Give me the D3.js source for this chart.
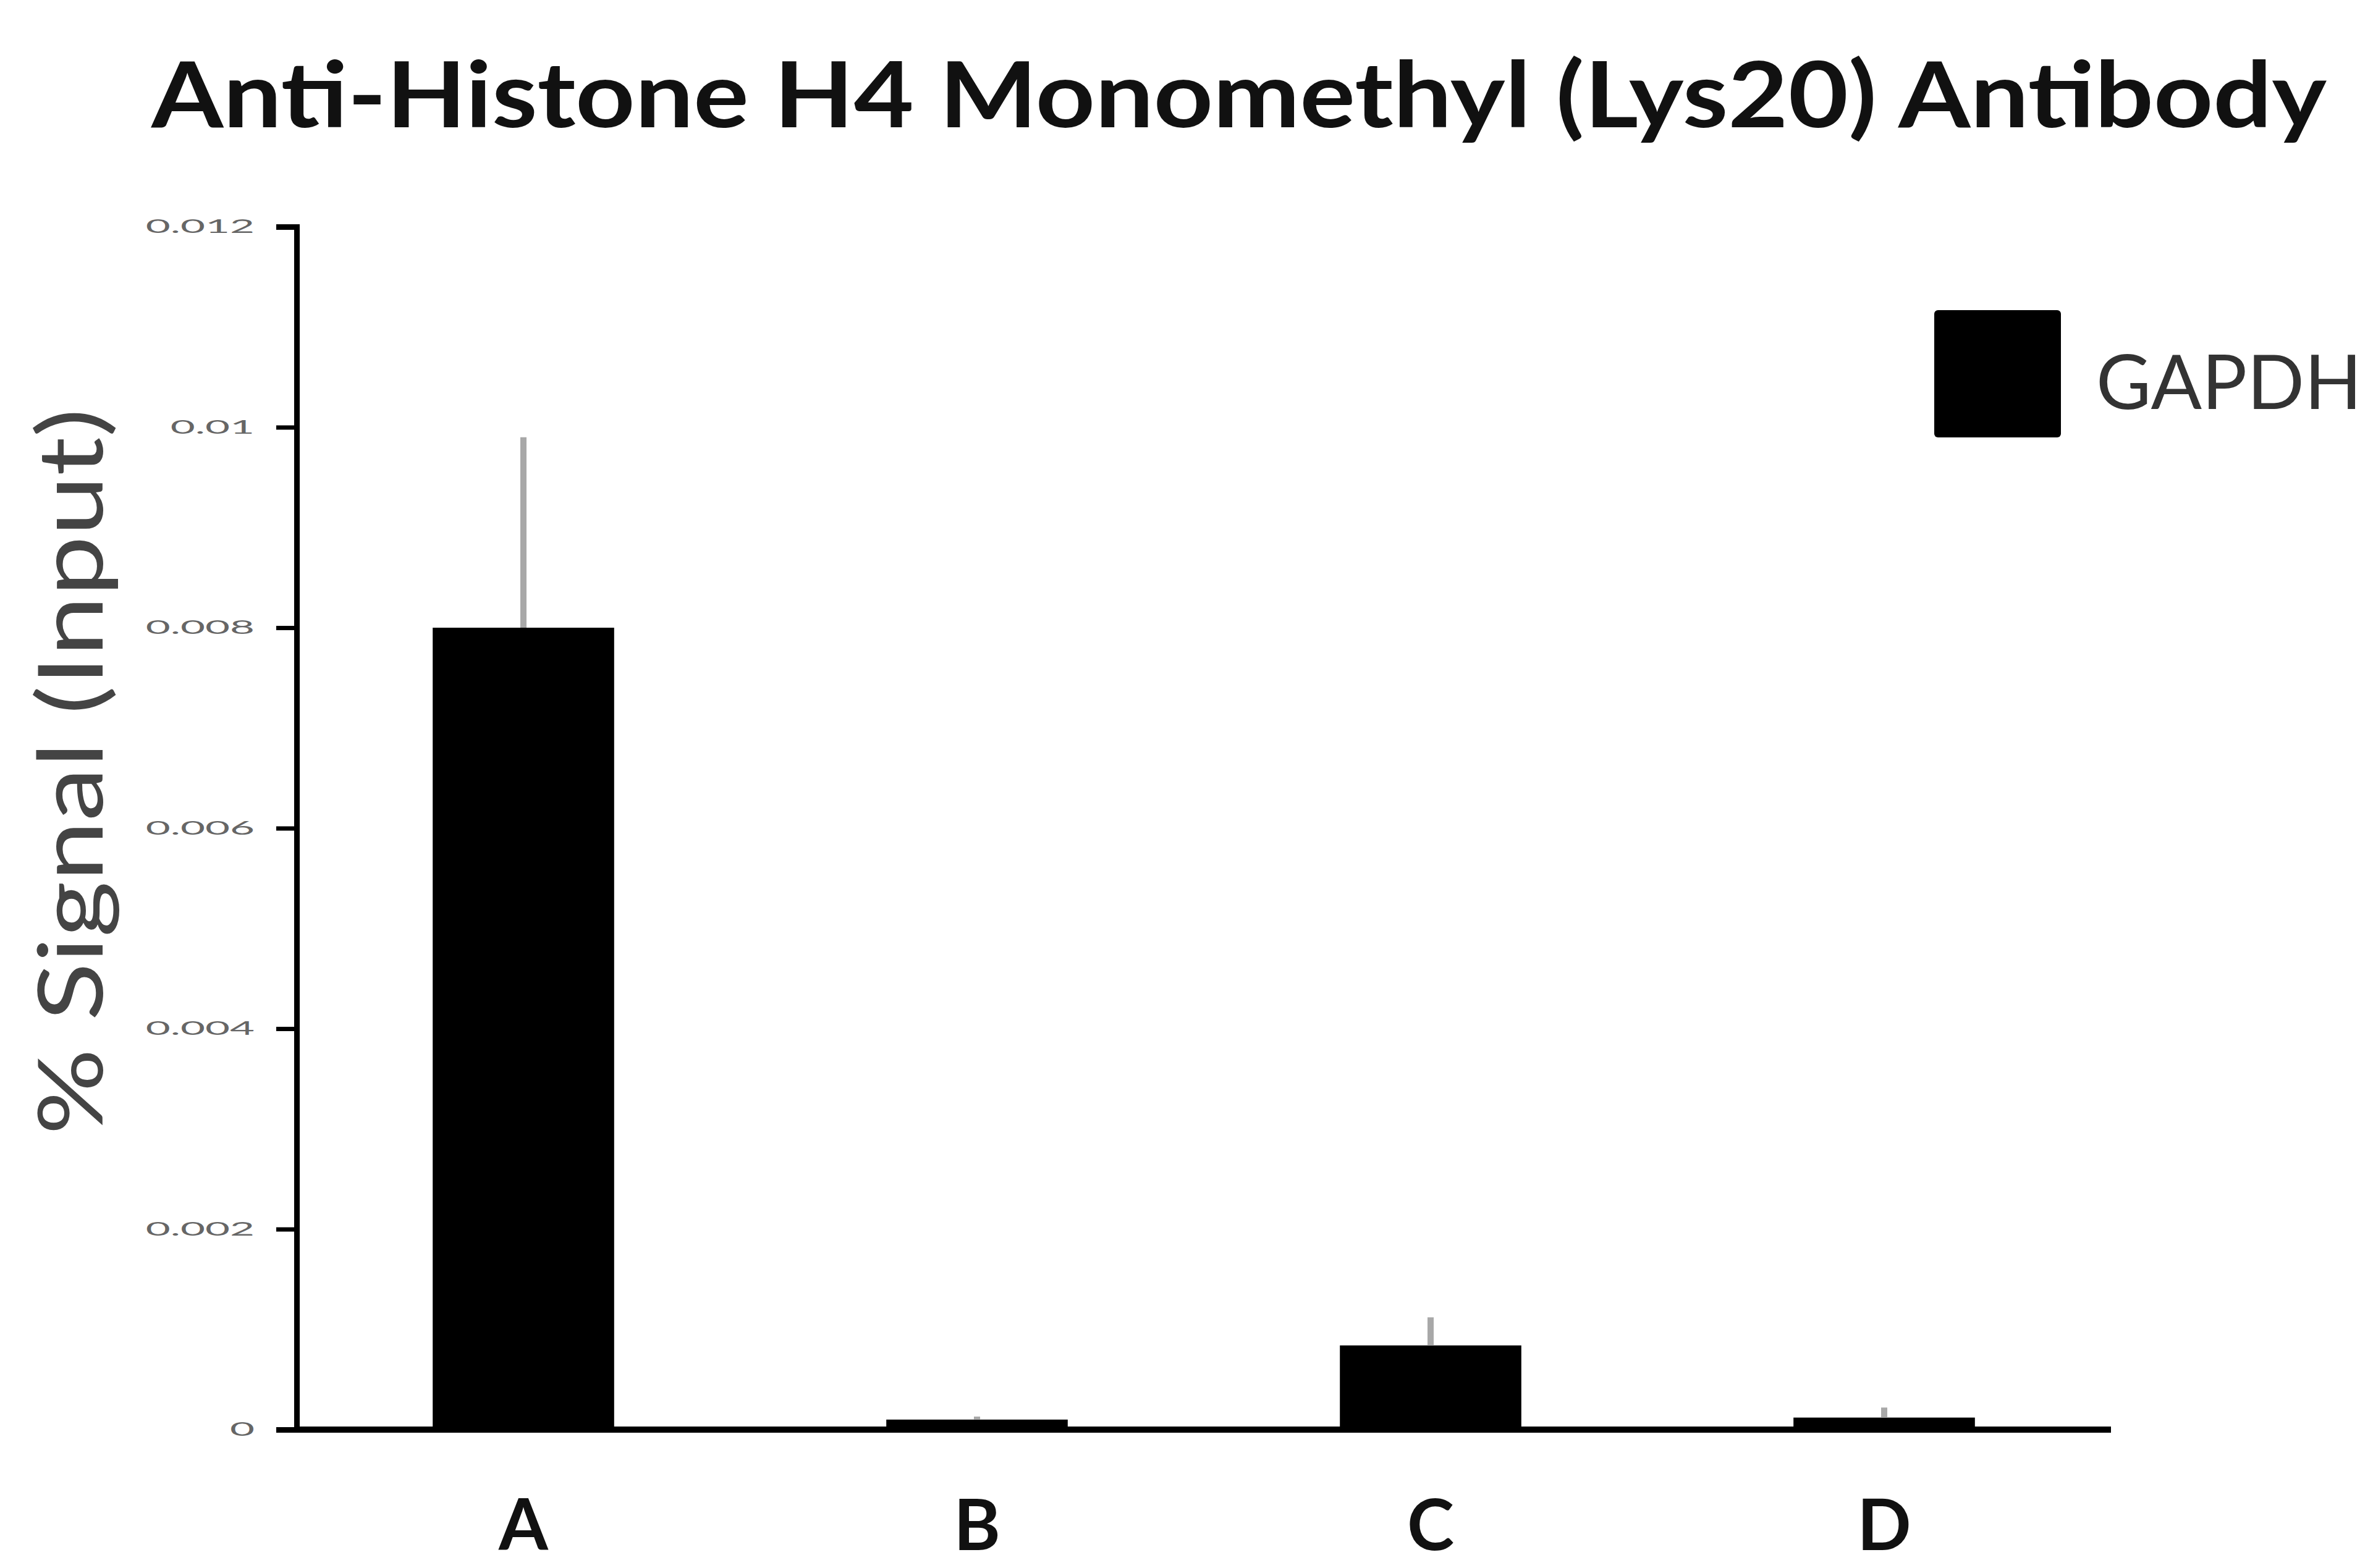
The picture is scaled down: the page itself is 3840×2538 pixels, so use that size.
<!DOCTYPE html>
<html>
<head>
<meta charset="utf-8">
<script src="https://cdn.jsdelivr.net/npm/d3@7"></script>
<style>
  html, body { margin: 0; padding: 0; background: #fff; }
  svg { display: block; }
</style>
</head>
<body>
<svg id="chart" width="3840" height="2538"></svg>
<script>
// chart data
const categories = ["A", "B", "C", "D"];
const values = [0.008, 0.0001, 0.00084, 0.00012];
const errors = [0.0019, 0.00003, 0.00028, 0.0001];
const yTicks = [0, 0.002, 0.004, 0.006, 0.008, 0.01, 0.012];
const yTickLabels = ["0", "0.002", "0.004", "0.006", "0.008", "0.01", "0.012"];
const seriesName = "GAPDH";
const title = "Anti-Histone H4 Monomethyl (Lys20) Antibody";
const yTitle = "% Signal (Input)";

const svg = d3.select("#chart");
svg.append("rect").attr("width", 3840).attr("height", 2538).attr("fill", "#fff");

// plot box (window.top is taken, so prefix these)
const plotLeft = 480, plotRight = 3416, plotTop = 367, plotBottom = 2314;

const x = d3.scaleBand().domain(categories).range([plotLeft, plotRight]).padding(0);
const y = d3.scaleLinear().domain([0, 0.012]).range([plotBottom, plotTop]);
const barW = x.bandwidth() * 0.4;

// title
svg.append("text")
  .attr("x", 245)
  .attr("y", 206)
  .attr("textLength", 3520)
  .attr("lengthAdjust", "spacingAndGlyphs")
  .style("font-family", "Lato, 'Open Sans', sans-serif")
  .style("font-weight", 700)
  .style("font-size", "148px")
  .attr("fill", "#111")
  .text(title);

// bars
svg.selectAll("rect.bar")
  .data(categories)
  .join("rect")
  .attr("class", "bar")
  .attr("x", (d) => x(d) + (x.bandwidth() - barW) / 2)
  .attr("y", (d, i) => y(values[i]))
  .attr("width", barW)
  .attr("height", (d, i) => y(0) - y(values[i]))
  .attr("fill", "#000");

// error bars (line only, no cap)
svg.selectAll("line.err")
  .data(categories)
  .join("line")
  .attr("class", "err")
  .attr("x1", (d) => x(d) + x.bandwidth() / 2)
  .attr("x2", (d) => x(d) + x.bandwidth() / 2)
  .attr("y1", (d, i) => y(values[i]))
  .attr("y2", (d, i) => y(values[i] + errors[i]))
  .attr("stroke", "#a8a8a8")
  .attr("stroke-width", 10);

// y axis
const yAxis = svg.append("g")
  .attr("transform", `translate(${plotLeft},0)`)
  .call(
    d3.axisLeft(y)
      .tickValues(yTicks)
      .tickFormat((d, i) => yTickLabels[i])
      .tickSize(33)
      .tickPadding(0)
  );
yAxis.select(".domain").attr("stroke", "#000").attr("stroke-width", 9);
yAxis.selectAll(".tick line").attr("stroke", "#000").attr("stroke-width", 7);
// labels in the source are squat and wide, so stretch them sideways
const sx = 2.3;
yAxis.selectAll(".tick text")
  .attr("x", -68 / sx)
  .attr("transform", `scale(${sx},1)`)
  .attr("fill", "#666")
  .style("font-family", "Lato, sans-serif")
  .style("font-size", "30px");

// x axis line
const xAxis = svg.append("g")
  .attr("transform", `translate(0,${plotBottom})`)
  .call(d3.axisBottom(x).tickSize(0).tickPadding(195));
xAxis.select(".domain")
  .attr("d", `M${plotLeft - 4},0H${plotRight}`)
  .attr("stroke", "#000")
  .attr("stroke-width", 10);
xAxis.selectAll(".tick text")
  .attr("fill", "#111")
  .attr("dy", 0)
  .style("font-family", "Lato, sans-serif")
  .style("font-weight", 700)
  .style("font-size", "115px");

// y title
svg.append("text")
  .attr("transform", `translate(166,1249) rotate(-90)`)
  .attr("text-anchor", "middle")
  .attr("textLength", 1176)
  .attr("lengthAdjust", "spacingAndGlyphs")
  .attr("fill", "#444")
  .style("font-family", "Lato, sans-serif")
  .style("font-size", "145px")
  .text(yTitle);

// legend
const legend = svg.append("g").attr("transform", "translate(3130,502)");
legend.append("rect")
  .attr("width", 205)
  .attr("height", 206)
  .attr("rx", 6)
  .attr("fill", "#000");
legend.append("text")
  .attr("x", 262)
  .attr("y", 160)
  .attr("fill", "#333")
  .style("font-family", "Lato, sans-serif")
  .style("font-size", "122px")
  .text(seriesName);
</script>
</body>
</html>
